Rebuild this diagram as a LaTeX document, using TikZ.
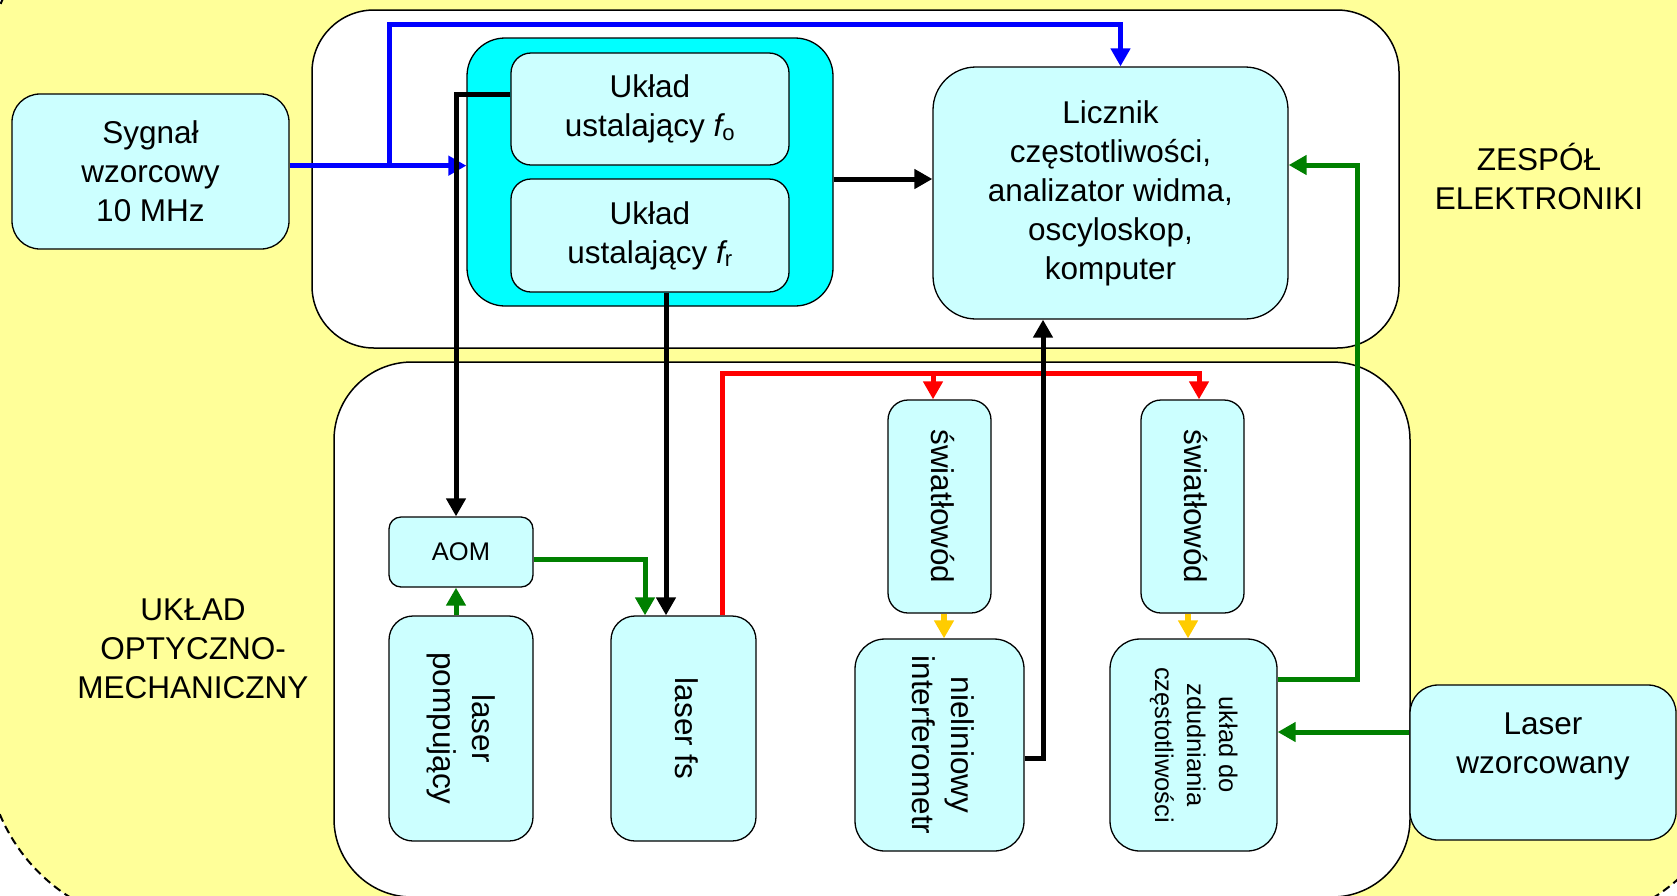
\documentclass[tikz,border=0pt]{standalone}
\usepackage{fontspec}
\setmainfont{Liberation Sans}
\usepackage{graphicx}
\usetikzlibrary{arrows.meta}

\definecolor{bgyellow}{HTML}{FFFF99}
\definecolor{lightcyan}{HTML}{CCFFFF}
\definecolor{boxcyan}{HTML}{00FFFF}
\definecolor{sigblue}{HTML}{0000FF}
\definecolor{beamgreen}{HTML}{008000}
\definecolor{beamred}{HTML}{FF0000}
\definecolor{fibreyellow}{HTML}{FFCC00}

\newcommand{\bigfont}{\fontsize{31.5}{39}\selectfont}
\newcommand{\smallfont}{\fontsize{25.5}{32}\selectfont}
\newcommand{\vtext}[1]{\rotatebox{-90}{\begin{tabular}{@{}c@{}}#1\end{tabular}}}

\begin{document}
\begin{tikzpicture}[x=1pt, y=-1pt, >={Triangle[length=18pt,width=19pt]},
	box/.style={draw, line width=1.3pt, fill=lightcyan, rounded corners=#1, inner sep=0pt, align=center, font=\bigfont},
	box/.default=24pt,
	panel/.style={draw, line width=1.5pt, fill=white, rounded corners=#1},
	wire/.style={line width=5pt, ->}]

				\useasboundingbox (0,0) rectangle (1677,895);
				% background area
				\draw[fill=bgyellow, line width=2pt, dash pattern=on 8pt off 5pt, rounded corners=180pt] (-14,-105) rectangle (1738,925);

				% the two sub-assemblies
				\node[panel=62pt, minimum width=1087pt, minimum height=338pt] (elec) at (855.5,179) {};
				\node[panel=78pt, minimum width=1076pt, minimum height=535pt] (opt) at (872,629.5) {};
				\node[font=\bigfont, align=center] (elecname) at (1539,176) {ZESPÓŁ\\ELEKTRONIKI};
				\node[font=\bigfont, align=center] (optname) at (193,649) {UKŁAD\\OPTYCZNO-\\MECHANICZNY};

				% electronics
				\node[box=28pt, minimum width=277pt, minimum height=155pt] (syg) at (150.5,171.5) {Sygnał\\wzorcowy\\10 MHz};
				\node[box=38pt, fill=boxcyan, minimum width=366pt, minimum height=268pt] (stab) at (650,172) {};
				\node[box=20pt, minimum width=278pt, minimum height=112pt] (fo) at (650,109) {Układ\\ustalający {\itshape f}\textsubscript{o}};
				\node[box=20pt, minimum width=278pt, minimum height=113pt] (fr) at (650,235.5) {Układ\\ustalający {\itshape f}\textsubscript{r}};
				\node[box=43pt, minimum width=355pt, minimum height=252pt] (licz) at (1110.5,193) {Licznik\\częstotliwości,\\analizator widma,\\oscyloskop,\\komputer};

				% optics
				\node[box=12pt, font=\smallfont, minimum width=144pt, minimum height=70pt] (aom) at (461,552) {AOM};
				\node[box, minimum width=144pt, minimum height=225pt] (pomp) at (461,728.5) {\vtext{laser\\pompujący}};
				\node[box, minimum width=145pt, minimum height=225pt] (fs) at (683.5,728.5) {\vtext{laser fs}};
				\foreach \x/\name in {939.5/fib1, 1192.5/fib2}
					\node[box=20pt, minimum width=103pt, minimum height=213pt] (\name) at (\x,506.5) {\vtext{światłowód}};
				\node[box=30pt, minimum width=169pt, minimum height=212pt] (nli) at (939.5,745) {\vtext{nieliniowy\\interferometr}};
				\node[box=30pt, font=\smallfont, minimum width=167pt, minimum height=212pt] (beat) at (1193.5,745) {\vtext{układ do\\zdudniania\\częstotliwości}};
				\node[box=28pt, minimum width=266pt, minimum height=155pt] (ref) at (1543,762.5) {Laser\\wzorcowany\\\mbox{}};

				\coordinate (bsplit) at (389,165);
				\coordinate (btop) at (389,24);
				\coordinate (rcorner) at (1199,373);
				\coordinate (gturn) at (1357,679);

				% 10 MHz reference
				\draw[wire, sigblue] (syg.east |- fo.south) -- (stab.west |- fo.south);
				\draw[wire, sigblue] (bsplit) -- (btop) -| ([xshift=10pt]licz.north);

				% fs pulses into the fibres
				\draw[wire, beamred] ([xshift=38.5pt]fs.north) |- (rcorner) -- (rcorner |- fib2.north);
				\draw[wire, beamred] ([xshift=-6.5pt]fib1.north |- rcorner) -- ([xshift=-6.5pt]fib1.north);

				% cw beams
				\draw[wire, beamgreen] ([xshift=-5pt]pomp.north) -- ([xshift=-5pt]aom.south);
				\draw[wire, beamgreen] ([yshift=-7pt]aom.east) -| ([xshift=-38.5pt]fs.north);
				\draw[wire, beamgreen] ([yshift=66pt]beat.east) -- (gturn) |- ([yshift=28pt]licz.east);
				\draw[wire, beamgreen] ([yshift=30.5pt]ref.west) -- ([yshift=30.5pt]ref.west -| beat.east);

				\foreach \a/\b/\s in {fib1/nli/4.5, fib2/beat/-4.5}
					\draw[wire, fibreyellow, line width=6pt] ([xshift=\s]\a.south) -- ([xshift=\s]\a.south |- \b.north);

				% control and measurement signals
				\draw[wire] ([yshift=15pt]fo.west) -| ([xshift=-5pt]aom.north);
				\draw[wire] ([xshift=16pt]fr.south) -- ([xshift=16pt]fr.south |- fs.north);
				\draw[wire] ([yshift=-7pt]stab.east) -- ([yshift=-7pt]stab.east -| licz.west);
				\draw[wire] ([yshift=-13pt]nli.east) -| ([xshift=-67.5pt]licz.south);
			\end{tikzpicture}
\end{document}
